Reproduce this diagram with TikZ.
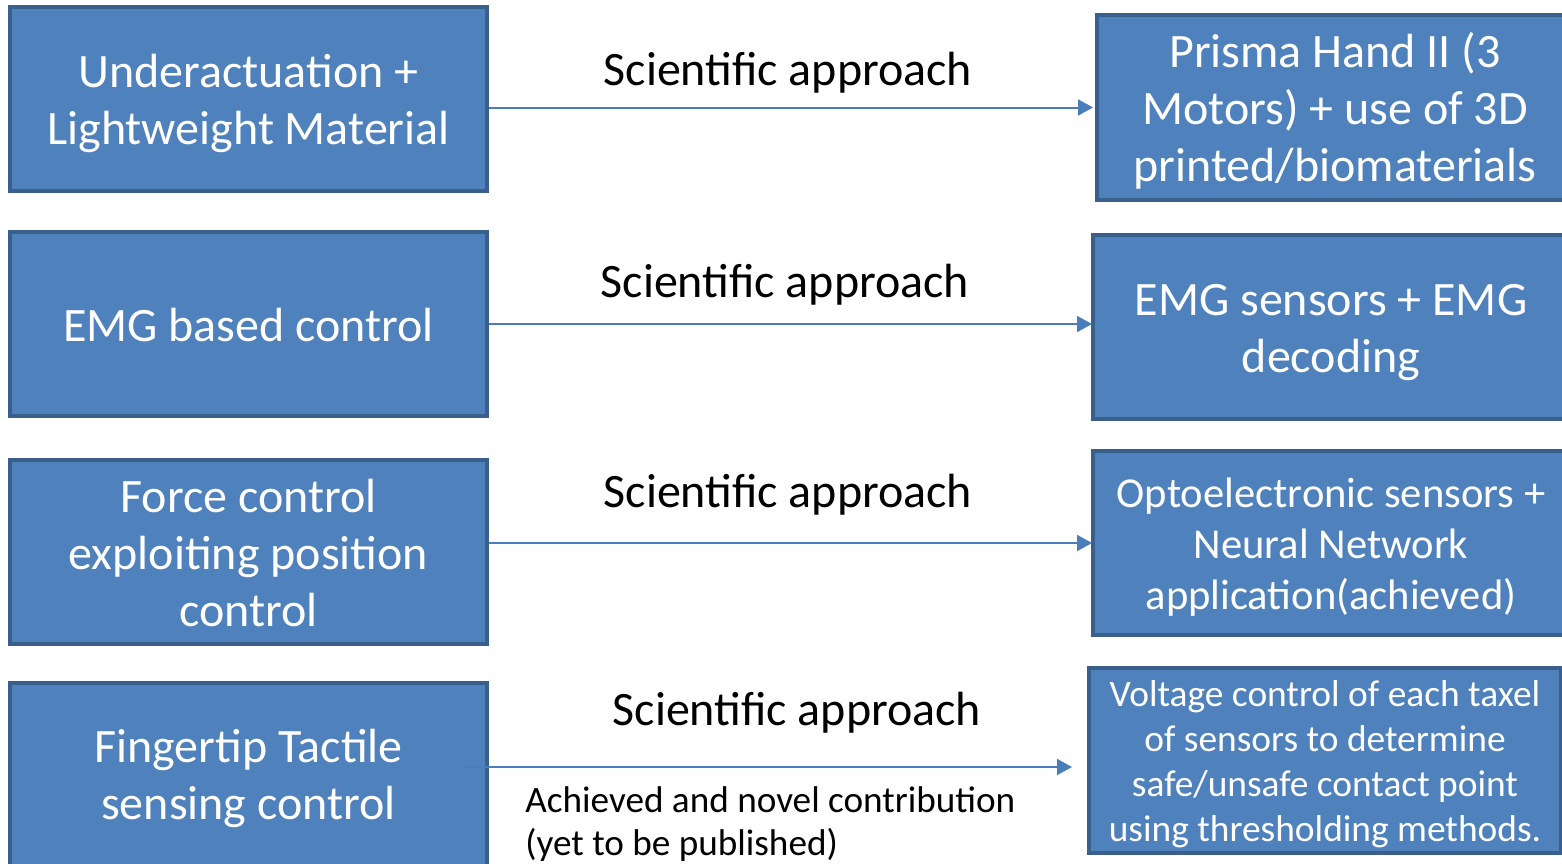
\documentclass[tikz,border=0pt]{standalone}
\usepackage{fontspec}
\setmainfont{Carlito}
\usetikzlibrary{arrows.meta,calc}
\definecolor{boxfill}{HTML}{4F81BD}
\definecolor{boxline}{HTML}{3A5F8B}
\definecolor{arrcol}{HTML}{4A7EBB}
\tikzset{
  blockbox/.style={draw=boxline, fill=boxfill, line width=2pt, inner sep=0pt},
  boxtext/.style={text=white, align=center, inner sep=0pt},
  bigtxt/.style={font=\fontsize{24}{28.5}\selectfont},
  midtxt/.style={font=\fontsize{21.3}{25.5}\selectfont},
  smalltxt/.style={font=\fontsize{18.7}{22.5}\selectfont},
  labeltxt/.style={font=\fontsize{24}{28.5}\selectfont, inner sep=0pt},
  notetxt/.style={font=\fontsize{18.6}{21.5}\selectfont, inner sep=0pt, align=left},
  conn/.style={draw=arrcol, line width=1pt, -{Triangle[length=7.5pt,width=8pt]}},
}
\begin{document}
\begin{tikzpicture}[x=0.5pt,y=-0.5pt]
\useasboundingbox (0,0) rectangle (1562,863);
% left boxes
\node[blockbox,minimum width=238.5pt,minimum height=92pt] (L1) at (248.5,99) {};
\node[blockbox,minimum width=238.5pt,minimum height=92pt] (L2) at (248.5,324) {};
\node[blockbox,minimum width=238.5pt,minimum height=92pt] (L3) at (248.5,552) {};
\node[blockbox,minimum width=238.5pt,minimum height=93pt] (L4) at (248.5,776) {};
% right boxes
\node[blockbox,minimum width=238pt,minimum height=92.5pt] (R1) at (1335,107.5) {};
\node[blockbox,minimum width=238pt,minimum height=92pt] (R2) at (1331,327) {};
\node[blockbox,minimum width=238pt,minimum height=92pt] (R3) at (1331,543) {};
\node[blockbox,minimum width=236pt,minimum height=92.5pt] (R4) at (1325,760.5) {};
% box texts
\node[boxtext,bigtxt] (L1t) at ($(L1.center)+(0,4)$) {Underactuation +\\Lightweight Material};
\node[boxtext,bigtxt] (L2t) at ($(L2.center)+(0,1)$) {EMG based control};
\node[boxtext,bigtxt] (L3t) at ($(L3.center)+(0,1)$) {Force control\\exploiting position\\control};
\node[boxtext,bigtxt] (L4t) at ($(L4.center)+(0,2)$) {Fingertip Tactile\\sensing control};
\node[boxtext,bigtxt] (R1t) at ($(R1.center)+(0,3)$) {Prisma Hand II (3\\Motors) + use of 3D\\printed/biomaterials};
\node[boxtext,bigtxt] (R2t) at ($(R2.center)+(0,6)$) {EMG sensors + EMG\\decoding};
\node[boxtext,midtxt] (R3t) at ($(R3.center)+(0,4)$) {Optoelectronic sensors +\\Neural Network\\application(achieved)};
\node[boxtext,smalltxt] (R4t) at ($(R4.center)+(0,4)$) {Voltage control of each taxel\\of sensors to determine\\safe/unsafe contact point\\using thresholding methods.};
% labels
\node[labeltxt] (S1) at (788,73) {Scientific approach};
\node[labeltxt] (S2) at (785,285) {Scientific approach};
\node[labeltxt] (S3) at (788,495) {Scientific approach};
\node[labeltxt] (S4) at (797,713) {Scientific approach};
\node[notetxt,anchor=base west] (N4) at (525,855) {Achieved and novel contribution\\(yet to be published)};
% connectors
\draw[conn] (L1.east |- R1.west) -- ([xshift=-1pt]R1.west);
\draw[conn] (L2.east) -- ([xshift=0.5pt]L2.east -| R2.west);
\draw[conn] (L3.east |- R3.west) -- ([xshift=0.5pt]R3.west);
\coordinate (A4s) at (465,767);
\coordinate (A4e) at (1072,767);
\draw[conn] (A4s) -- (A4e);
\end{tikzpicture}
\end{document}
